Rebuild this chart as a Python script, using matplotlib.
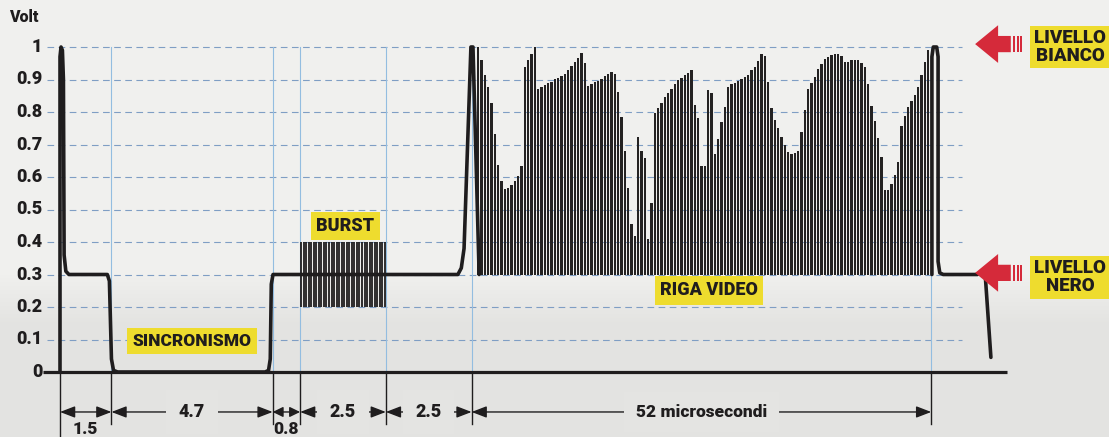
import numpy as np
import matplotlib
matplotlib.use("Agg")
import matplotlib.pyplot as plt
from matplotlib.patches import Polygon, Rectangle

# ---------------- data ----------------
volt_ticks = [0, 0.1, 0.2, 0.3, 0.4, 0.5, 0.6, 0.7, 0.8, 0.9, 1.0]
volt_labels = ["0", "0.1", "0.2", "0.3", "0.4", "0.5", "0.6", "0.7", "0.8", "0.9", "1"]

# section boundaries along the line (µs; the 52 µs video section is drawn compressed)
boundaries = [0, 1.5, 6.2, 7.0, 9.5, 12.0, 25.4]
segment_labels = ["1.5", "4.7", "0.8", "2.5", "2.5", "52 microsecondi"]

black_level = 0.3
burst_low = 0.2
burst_high = 0.4
burst_cycles = 34

# main thick trace (sync tip, front/back porch, first white spike)
trace_x = [0.0, 0.0, 0.03, 0.07, 0.10, 0.12, 0.17, 0.26,
           1.38, 1.44, 1.50, 1.56, 1.68,
           5.98, 6.08, 6.13, 6.16, 6.21, 6.30,
           11.60, 11.70, 11.78, 11.98, 12.04, 12.22]
trace_v = [0.0, 0.97, 1.0, 0.99, 0.90, 0.36, 0.31, 0.30,
           0.30, 0.28, 0.04, 0.005, 0.0,
           0.0, 0.005, 0.04, 0.27, 0.30, 0.30,
           0.30, 0.32, 0.38, 1.0, 1.0, 0.30]

# end of line: last white pulse, front porch and start of next sync
end_x = [25.42, 25.42, 25.46, 25.56, 25.60, 25.60, 25.65, 25.75, 26.75]
end_v = [0.30, 0.97, 1.0, 1.0, 0.97, 0.34, 0.305, 0.30, 0.30]
tail_x = [26.98, 27.14]
tail_v = [0.29, 0.045]

# video line: peak voltage of each luminance sample
video_heights = [
    1.0,
    0.96, 0.915, 0.877, 0.827, 0.733, 0.638, 0.587, 0.563, 0.566, 0.576, 0.587,
    0.602, 0.635, 0.939, 0.959, 0.98, 1.0, 0.872, 0.878, 0.883, 0.888, 0.893,
    0.9, 0.906, 0.911, 0.916, 0.929, 0.941, 0.954, 0.967, 0.983, 0.951, 0.881,
    0.886, 0.891, 0.896, 0.903, 0.911, 0.918, 0.923, 0.918, 0.862, 0.786, 0.679,
    0.566, 0.454, 0.418, 0.724, 0.679, 0.658, 0.408, 0.52, 0.796, 0.813, 0.829,
    0.846, 0.859, 0.872, 0.887, 0.898, 0.906, 0.913, 0.921, 0.93, 0.821, 0.783,
    0.633, 0.633, 0.867, 0.857, 0.67, 0.717, 0.768, 0.816, 0.878, 0.885, 0.89,
    0.895, 0.9, 0.908, 0.915, 0.929, 0.939, 0.956, 0.977, 0.972, 0.893, 0.813,
    0.776,
    0.75, 0.724, 0.699, 0.677, 0.67, 0.673, 0.679, 0.74, 0.806, 0.87, 0.888,
    0.908, 0.931, 0.949, 0.964, 0.969, 0.974, 0.977, 0.98, 0.972, 0.954, 0.954,
    0.959, 0.959, 0.961, 0.952, 0.939, 0.885, 0.819, 0.772, 0.719, 0.663, 0.561,
    0.561, 0.577, 0.607, 0.645, 0.758, 0.788, 0.816, 0.834, 0.852, 0.878, 0.915,
    0.954, 0.99,
]
video_first = 12.19
video_last = 25.31

# ---------------- style ----------------
FONT = ["Roboto", "DejaVu Sans"]
plt.rcParams["font.family"] = FONT
WEIGHT = "heavy"
INK = "#1f1d1e"
YELLOW = "#EEDC2E"
RED = "#D52A3A"
GRID = "#7f9ec4"
VBLUE = "#93bde0"

W, H = 1109, 437
fig = plt.figure(figsize=(W / 100, H / 100), dpi=100)

# background (scanned paper look: lighter top, greyer bottom)
bg = fig.add_axes([0, 0, 1, 1], zorder=0)
rows = np.linspace(0, 1, 200)
top = np.array([0.945, 0.945, 0.937])
bot = np.array([0.893, 0.893, 0.885])
t = np.clip((rows - 0.62) / 0.12, 0, 1)[:, None]
img = (top * (1 - t) + bot * t)[:, None, :].repeat(2, axis=1)
bg.imshow(img, aspect="auto", extent=[0, 1, 1, 0])
bg.set_axis_off()

ax = fig.add_axes([0, 0, 1, 1], zorder=1)
ax.patch.set_alpha(0)
PXX = 34.3   # px per x unit
PXY = 325.0  # px per volt
ax.set_xlim(-60 / PXX, (W - 60) / PXX)
ax.set_ylim(-(H - 372) / PXY, 372 / PXY)
ax.set_axis_off()

# horizontal dashed grid
for v in volt_ticks[1:]:
    ax.plot([-0.38, 26.3], [v, v], color=GRID, lw=0.8, dashes=(6, 4), zorder=1)

# y labels
for v, lab in zip(volt_ticks, volt_labels):
    ax.text(-0.52, v, lab, ha="right", va="center", fontsize=13,
            fontweight=WEIGHT, color=INK, zorder=5)
ax.text(-1.5, 1.092, "Volt", ha="left", va="center", fontsize=11.5,
        fontweight=WEIGHT, color=INK, zorder=5)

# light-blue section lines
for b in boundaries[1:]:
    ax.plot([b, b], [0, 1.0], color=VBLUE, lw=0.8, zorder=1)

# x axis line
ax.plot([-0.5, 27.6], [0, 0], color=INK, lw=2.3, solid_capstyle="butt", zorder=4)

# extension lines below axis
for i, b in enumerate(boundaries):
    ax.plot([b, b], [0, -0.2 if i == 0 else -0.16], color=INK, lw=1.0, zorder=4)

# burst
bx = np.linspace(boundaries[3] + 0.03, boundaries[4] - 0.03, burst_cycles)
ax.vlines(bx, burst_low, burst_high, color=INK, lw=1.3, zorder=3)

# video samples
vx = np.linspace(video_first, video_last, len(video_heights))
vh = np.array(video_heights)
ax.bar(vx, vh - black_level, bottom=black_level, width=0.066,
       color="#242222", linewidth=0, zorder=3)

# main trace
kw = dict(color=INK, lw=2.6, solid_joinstyle="round", solid_capstyle="round", zorder=4)
ax.plot(trace_x, trace_v, **kw)
ax.plot(end_x, end_v, **kw)
ax.plot(tail_x, tail_v, **kw)

# dimension arrows
DIM_Y = -0.123
def dim_arrow(x0, x1, hl=0.65, hw=0.25):
    ax.annotate("", xy=(x1, DIM_Y), xytext=(x0, DIM_Y),
                arrowprops=dict(arrowstyle=f"<|-|>,head_length={hl},head_width={hw}",
                                color=INK, lw=1.0, shrinkA=0, shrinkB=0,
                                mutation_scale=14), zorder=5)

bgc = (0.893, 0.893, 0.885)
for i, lab in enumerate(segment_labels):
    x0, x1 = boundaries[i], boundaries[i + 1]
    mid = (x0 + x1) / 2
    if lab in ("1.5", "0.8"):
        dim_arrow(x0, x1, hl=0.65 if lab == "1.5" else 0.45,
                  hw=0.25 if lab == "1.5" else 0.22)
        ax.text(mid, -0.176, lab, ha="center", va="center", fontsize=12.5,
                fontweight=WEIGHT, color=INK, zorder=6)
    else:
        dim_arrow(x0, x1)
        ax.text(mid, DIM_Y, lab, ha="center", va="center",
                fontsize=13 if len(lab) < 5 else 12.5, fontweight=WEIGHT, color=INK,
                zorder=6, bbox=dict(boxstyle="square,pad=0.7", fc=bgc, ec="none"))

# yellow labels
def ylabel(x, y, s, fs=13, ls=1.0, pad=0.3):
    ax.text(x, y, s, ha="center", va="center", fontsize=fs, fontweight=WEIGHT,
            color=INK, linespacing=ls, zorder=7,
            bbox=dict(boxstyle=f"square,pad={pad}", fc=YELLOW, ec="none"))

ylabel(3.85, 0.095, "SINCRONISMO", fs=12.5)
ylabel(8.31, 0.449, "BURST", fs=13)
ylabel(18.92, 0.252, "RIGA VIDEO", fs=13)
ylabel(29.45, 1.0, "LIVELLO\nBIANCO", fs=13.5, ls=0.95, pad=0.2)
ylabel(29.45, 0.292, "LIVELLO\nNERO", fs=13.5, ls=0.95, pad=0.2)

# red arrows
def red_arrow(yc):
    tip = 26.68
    base = 27.35
    hh = 0.058
    sh = 0.025
    shaft_end = 27.72
    pts = [(tip, yc), (base, yc + hh), (base, yc + sh), (shaft_end, yc + sh),
           (shaft_end, yc - sh), (base, yc - sh), (base, yc - hh)]
    ax.add_patch(Polygon(pts, closed=True, fc=RED, ec="none", zorder=8))
    for s0, s1 in [(27.77, 27.85), (27.89, 27.95), (28.0, 28.06)]:
        ax.add_patch(Rectangle((s0, yc - sh), s1 - s0, 2 * sh, fc=RED, ec="none", zorder=8))

red_arrow(1.009)
red_arrow(0.305)

fig.savefig("out.png", dpi=100)
